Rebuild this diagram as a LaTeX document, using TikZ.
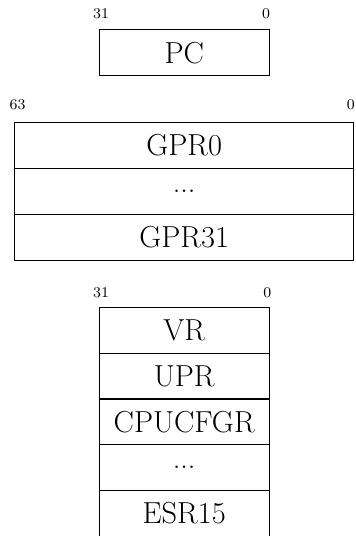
\documentclass[tikz,border=0pt]{standalone}

\tikzset{
    reg/.style={draw, thin, minimum height=0.815cm, inner sep=0pt, outer sep=0pt, font=\fontsize{15.3}{18}\selectfont},
    bitlabel/.style={font=\fontsize{7.5}{9}\selectfont, inner sep=0pt}
}

\begin{document}
\begin{tikzpicture}
    \useasboundingbox (0,0) rectangle (6.3,-9.487);

    % Draw program counter
    \node[reg, minimum width=3cm] (pc) at (3.26,-0.935) {PC};
    \node[bitlabel] (pchi) at ([xshift=0.03cm,yshift=0.28cm]pc.north west) {31};
    \node[bitlabel] (pclo) at ([xshift=-0.05cm,yshift=0.28cm]pc.north east) {0};

    % Draw general purpose registers
    \node[reg, minimum width=6cm] (gpr0) at (3.26,-2.573) {GPR0};
    \node[reg, minimum width=6cm] (gprdots) at (3.26,-3.388) {...};
    \node[reg, minimum width=6cm] (gpr31) at (3.26,-4.203) {GPR31};
    \node[bitlabel] (gprhi) at ([xshift=0.05cm,yshift=0.32cm]gpr0.north west) {63};
    \node[bitlabel] (gprlo) at ([xshift=-0.05cm,yshift=0.32cm]gpr0.north east) {0};

    % Draw special purpose registers
    \node[reg, minimum width=3cm] (vr) at (3.26,-5.844) {VR};
    \node[reg, minimum width=3cm] (upr) at (3.26,-6.654) {UPR};
    \node[reg, minimum width=3cm] (cpucfgr) at (3.26,-7.464) {CPUCFGR};
    \node[reg, minimum width=3cm] (sprdots) at (3.26,-8.274) {...};
    \node[reg, minimum width=3cm] (esr15) at (3.26,-9.084) {ESR15};
    \node[bitlabel] (sprhi) at ([xshift=0.03cm,yshift=0.26cm]vr.north west) {31};
    \node[bitlabel] (sprlo) at ([xshift=-0.03cm,yshift=0.26cm]vr.north east) {0};

\end{tikzpicture}
\end{document}
